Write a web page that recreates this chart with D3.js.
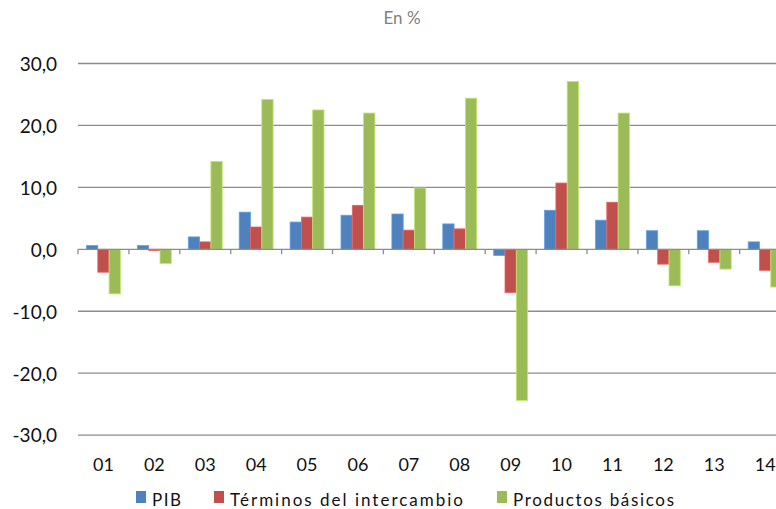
<!DOCTYPE html>
<html>
<head>
<meta charset="utf-8">
<script src="https://cdn.jsdelivr.net/npm/d3@7"></script>
<style>
  html, body { margin: 0; padding: 0; background: #fff; }
  svg { display: block; }
  text { font-family: Lato, "Liberation Sans", Arial, sans-serif; }
</style>
</head>
<body>
<svg id="chart" width="776" height="509"></svg>
<script>
const categories = ["01","02","03","04","05","06","07","08","09","10","11","12","13","14"];
const seriesNames = ["PIB", "Términos del intercambio", "Productos básicos"];
const pib = [0.6, 0.6, 2.0, 6.0, 4.4, 5.5, 5.7, 4.1, -1.0, 6.3, 4.7, 3.0, 3.0, 1.2];
const terminos = [-3.7, -0.2, 1.2, 3.6, 5.2, 7.1, 3.1, 3.3, -7.0, 10.7, 7.6, -2.4, -2.1, -3.4];
const productos = [-7.2, -2.3, 14.2, 24.2, 22.5, 22.0, 9.9, 24.4, -24.4, 27.1, 22.0, -5.9, -3.2, -6.1];
const yTicks = [-30, -20, -10, 0, 10, 20, 30];
const colors = ["#4F81BD", "#C0504D", "#9BBB59"];
const legendTextLen = [29, 233, 161];

const seriesValues = [pib, terminos, productos];
const rows = categories.map((c, i) => ({
  cat: c,
  vals: seriesNames.map((s, j) => ({ key: s, idx: j, value: seriesValues[j][i] }))
}));

const FONT = "Lato, 'Liberation Sans', Arial, sans-serif";
const svg = d3.select("#chart");
const left = 78, bandW = 50.9;
const x0 = d3.scaleBand().domain(categories).range([left, left + bandW * categories.length]).padding(0);
const x1 = d3.scaleBand().domain(seriesNames).range([8.5, x0.bandwidth() - 8.5]).padding(0);
const y = d3.scaleLinear().domain([-30, 30]).range([435.1, 63.5]);

// grid lines
svg.append("g").selectAll("line").data(yTicks.filter(t => t !== 0)).join("line")
  .attr("x1", left).attr("x2", 776)
  .attr("y1", d => y(d)).attr("y2", d => y(d))
  .attr("stroke", "#8c8c8c").attr("stroke-width", 1.3);

// y labels
const yAxis = d3.axisLeft(y).tickValues(yTicks).tickSize(0).tickPadding(0)
  .tickFormat(d => d3.format(".1f")(d).replace(".", ",").replace("−", "-"));
const gy = svg.append("g").attr("transform", "translate(57,0)").call(yAxis);
gy.select(".domain").remove();
gy.selectAll("text").attr("font-size", 19).attr("fill", "#111").attr("dy", "0.36em")
  .style("font-family", FONT);

// bars
const groups = svg.append("g").selectAll("g").data(rows).join("g")
  .attr("transform", d => `translate(${x0(d.cat)},0)`);
groups.selectAll("rect").data(d => d.vals).join("rect")
  .attr("x", d => x1(d.key))
  .attr("width", x1.bandwidth())
  .attr("y", d => Math.min(y(d.value), y(0)))
  .attr("height", d => Math.abs(y(d.value) - y(0)))
  .attr("fill", d => colors[d.idx])
  .attr("stroke", d => d3.color(colors[d.idx]).brighter(0.6))
  .attr("stroke-width", 0.8);

// zero axis with ticks between categories
const xAxis = d3.axisBottom(x0).tickSize(0).tickPadding(0);
const gx = svg.append("g").attr("transform", `translate(0,${y(0)})`).call(xAxis);
gx.select(".domain").remove();
gx.selectAll(".tick line").remove();
gx.append("line").attr("x1", left).attr("x2", 776).attr("y1", 0).attr("y2", 0)
  .attr("stroke", "#8c8c8c").attr("stroke-width", 1.3);
gx.selectAll("line.bt").data(categories).join("line").attr("class", "bt")
  .attr("x1", d => x0(d)).attr("x2", d => x0(d))
  .attr("y1", 0).attr("y2", 5)
  .attr("stroke", "#8c8c8c").attr("stroke-width", 1.3);
gx.selectAll(".tick text")
  .attr("y", 471 - y(0)).attr("dy", 0)
  .attr("font-size", 18).attr("fill", "#111")
  .style("font-family", FONT);

// title
svg.append("text").attr("x", 402).attr("y", 24).attr("text-anchor", "middle")
  .attr("font-size", 17).attr("fill", "#808080").text("En %");

// legend
const legendX = [152, 230, 513];
const lg = svg.append("g").selectAll("g").data(seriesNames).join("g");
lg.append("rect")
  .attr("x", (d, i) => legendX[i] - 16).attr("y", 491)
  .attr("width", 10).attr("height", 12)
  .attr("fill", (d, i) => colors[i]);
lg.append("text")
  .attr("x", (d, i) => legendX[i]).attr("y", 505.5)
  .attr("font-size", 17).attr("fill", "#111")
  .attr("textLength", (d, i) => legendTextLen[i]).attr("lengthAdjust", "spacing")
  .text(d => d);
</script>
</body>
</html>
